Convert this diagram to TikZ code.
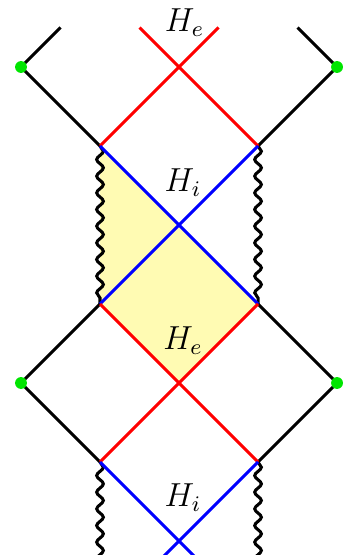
\documentclass[tikz,border=0pt]{standalone}
\usetikzlibrary{decorations.pathmorphing}

\begin{document}
\begin{tikzpicture}[font=\large,
  hor/.style={line width=1.1pt},
  sing/.style={line width=1.1pt,decorate,decoration={snake,segment length=6pt,amplitude=1.2pt}},
  infty/.style={fill=green!90!black,draw=none}]
\clip (-2.266,-4.177) rectangle (2.089,2.848);
% corners
\coordinate (tl) at (-1,1);
\coordinate (tr) at (1,1);
\coordinate (ml) at (-1,-1);
\coordinate (mr) at (1,-1);
\coordinate (bl) at (-1,-3);
\coordinate (br) at (1,-3);
\coordinate (x1) at (0,2);
\coordinate (x2) at (0,0);
\coordinate (x3) at (0,-2);
\coordinate (x4) at (0,-4);
\coordinate (il1) at (-2,2);
\coordinate (ir1) at (2,2);
\coordinate (il2) at (-2,-2);
\coordinate (ir2) at (2,-2);
% shaded region
\fill[yellow!30] (tl) -- (x2) -- (mr) -- (x3) -- (ml) -- cycle;
% asymptotic regions
\draw[hor,black] (-1.5,2.5) -- (il1) -- (tl);
\draw[hor,black] (1.5,2.5) -- (ir1) -- (tr);
\draw[hor,black] (ml) -- (il2) -- (bl);
\draw[hor,black] (mr) -- (ir2) -- (br);
% singularities
\draw[sing] (tl) -- (ml);
\draw[sing] (tr) -- (mr);
\draw[sing] (bl) -- (-1,-4.4);
\draw[sing] (br) -- (1,-4.4);
% horizons
\draw[hor,red] (tl) -- (0.5,2.5);
\draw[hor,red] (tr) -- (-0.5,2.5);
\draw[hor,blue] (tl) -- (mr);
\draw[hor,blue] (tr) -- (ml);
\draw[hor,red] (ml) -- (br);
\draw[hor,red] (mr) -- (bl);
\draw[hor,blue] (bl) -- (0.4,-4.4);
\draw[hor,blue] (br) -- (-0.4,-4.4);
% infinity points
\fill[infty] (il1) circle (.075);
\fill[infty] (ir1) circle (.075);
\fill[infty] (il2) circle (.075);
\fill[infty] (ir2) circle (.075);
% labels
\node (he1) at (0.07,2.56) {$H_e$};
\node (hi1) at (0.05,0.54) {$H_i$};
\node (he2) at (0.05,-1.46) {$H_e$};
\node (hi2) at (0.05,-3.45) {$H_i$};
\end{tikzpicture}
\end{document}
